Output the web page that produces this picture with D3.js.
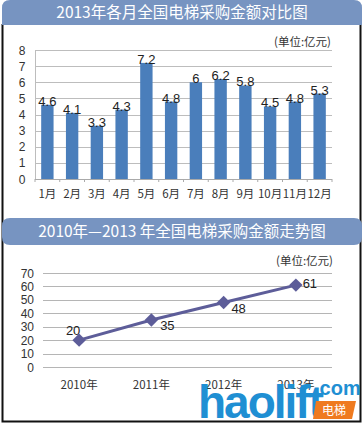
<!DOCTYPE html>
<html>
<head>
<meta charset="utf-8">
<script src="https://cdn.jsdelivr.net/npm/d3@7/dist/d3.min.js"></script>
<style>
  html, body { margin: 0; padding: 0; background: #fff; }
  svg { display: block; }
</style>
</head>
<body>
<svg id="chart" width="364" height="424"></svg>
<script>
var months = ['1月', '2月', '3月', '4月', '5月', '6月', '7月', '8月', '9月', '10月', '11月', '12月'];
var monthValues = [4.6, 4.1, 3.3, 4.3, 7.2, 4.8, 6, 6.2, 5.8, 4.5, 4.8, 5.3];
var monthTicks = [0, 1, 2, 3, 4, 5, 6, 7, 8];

var years = ['2010年', '2011年', '2012年', '2013年'];
var yearValues = [20, 35, 48, 61];
var yearTicks = [0, 10, 20, 30, 40, 50, 60, 70];

var svg = d3.select('#chart');
var cjk = '"Noto Sans CJK SC", sans-serif';
var latin = '"Liberation Sans", Arial, sans-serif';
var headerColor = '#7794c1';

// outer frame
svg.append('path')
  .attr('d', 'M2.5,24 V421.5 H360.5 V24')
  .attr('fill', 'none')
  .attr('stroke', '#111')
  .attr('stroke-width', 2);

// headers
function header(y, h, text, roundBottom) {
  var r = 8, x0 = 2, x1 = 362;
  var d = roundBottom
    ? 'M' + (x0 + r) + ',' + y + ' H' + (x1 - r) + ' Q' + x1 + ',' + y + ' ' + x1 + ',' + (y + r) +
      ' V' + (y + h - r) + ' Q' + x1 + ',' + (y + h) + ' ' + (x1 - r) + ',' + (y + h) +
      ' H' + (x0 + r) + ' Q' + x0 + ',' + (y + h) + ' ' + x0 + ',' + (y + h - r) +
      ' V' + (y + r) + ' Q' + x0 + ',' + y + ' ' + (x0 + r) + ',' + y + 'Z'
    : 'M' + x0 + ',' + (y + h) + ' V' + (y + r) + ' Q' + x0 + ',' + y + ' ' + (x0 + r) + ',' + y +
      ' H' + (x1 - r) + ' Q' + x1 + ',' + y + ' ' + x1 + ',' + (y + r) + ' V' + (y + h) + 'Z';
  svg.append('path').attr('d', d).attr('fill', headerColor);
  svg.append('text')
    .attr('x', 182).attr('y', y + h / 2 + 5.5)
    .attr('text-anchor', 'middle')
    .attr('fill', '#fff')
    .style('font-family', cjk)
    .style('font-size', '15.5px')
    .text(text);
}
header(0, 25, '2013年各月全国电梯采购金额对比图', false);
header(218, 27, '2010年—2013 年全国电梯采购金额走势图', true);

// ---- bar chart ----
var x1 = d3.scaleBand().domain(months).range([35, 332]).paddingInner(0.5).paddingOuter(0.25);
var y1 = d3.scaleLinear().domain([0, 8]).range([179, 50]);

var g1 = svg.append('g');
g1.selectAll('line.grid').data(monthTicks.slice(1)).enter().append('line')
  .attr('x1', 35).attr('x2', 332)
  .attr('y1', function(d) { return Math.round(y1(d)) + 0.5; })
  .attr('y2', function(d) { return Math.round(y1(d)) + 0.5; })
  .attr('stroke', '#bdbdbd');

g1.append('line').attr('x1', 35.5).attr('x2', 35.5).attr('y1', 50).attr('y2', 179)
  .attr('stroke', '#bdbdbd');

g1.selectAll('text.ytick').data(monthTicks).enter().append('text')
  .attr('x', 22).attr('y', function(d) { return y1(d) + 4.5; })
  .attr('text-anchor', 'middle')
  .attr('fill', '#333')
  .style('font-family', latin).style('font-size', '12px')
  .text(function(d) { return d; });

g1.selectAll('rect').data(monthValues).enter().append('rect')
  .attr('x', function(d, i) { return x1(months[i]); })
  .attr('width', x1.bandwidth())
  .attr('y', function(d) { return y1(d); })
  .attr('height', function(d) { return y1(0) - y1(d); })
  .attr('fill', '#4a7ebb');

g1.append('line').attr('x1', 35).attr('x2', 332).attr('y1', 179.5).attr('y2', 179.5)
  .attr('stroke', '#aaa');
g1.selectAll('line.xtick').data(d3.range(13)).enter().append('line')
  .attr('x1', function(i) { return 35 + i * x1.step(); })
  .attr('x2', function(i) { return 35 + i * x1.step(); })
  .attr('y1', 179).attr('y2', 182)
  .attr('stroke', '#aaa');

g1.selectAll('text.val').data(monthValues).enter().append('text')
  .attr('x', function(d, i) { return x1(months[i]) + x1.bandwidth() / 2; })
  .attr('y', function(d) { return y1(d) + 1; })
  .attr('text-anchor', 'middle')
  .attr('fill', '#222')
  .style('font-family', latin).style('font-size', '13px')
  .text(function(d) { return d; });

g1.selectAll('text.xlab').data(months).enter().append('text')
  .attr('x', function(d) { return x1(d) + x1.bandwidth() / 2; })
  .attr('y', 198)
  .attr('text-anchor', 'middle')
  .attr('fill', '#333')
  .style('font-family', cjk).style('font-size', '11.5px')
  .text(function(d) { return d; });

g1.append('text').attr('x', 331).attr('y', 46).attr('text-anchor', 'end')
  .attr('fill', '#333')
  .style('font-family', cjk).style('font-size', '11.5px')
  .text('(单位:亿元)');

// ---- line chart ----
var x2 = d3.scaleBand().domain(years).range([43, 332]);
var y2 = d3.scaleLinear().domain([0, 70]).range([367, 273]);

var g2 = svg.append('g');
g2.selectAll('line.grid').data(yearTicks).enter().append('line')
  .attr('x1', 43).attr('x2', 332)
  .attr('y1', function(d) { return Math.round(y2(d)) + 0.5; })
  .attr('y2', function(d) { return Math.round(y2(d)) + 0.5; })
  .attr('stroke', '#b5b5b5');

g2.selectAll('text.ytick').data(yearTicks).enter().append('text')
  .attr('x', 34).attr('y', function(d) { return y2(d) + 4.5; })
  .attr('text-anchor', 'end')
  .attr('fill', '#333')
  .style('font-family', latin).style('font-size', '12px')
  .text(function(d) { return d; });

var cx = function(d, i) { return x2(years[i]) + x2.bandwidth() / 2; };
var line = d3.line().x(cx).y(function(d) { return y2(d); });
g2.append('path').datum(yearValues).attr('d', line)
  .attr('fill', 'none').attr('stroke', '#5d5d99').attr('stroke-width', 3);

g2.selectAll('path.pt').data(yearValues).enter().append('path')
  .attr('d', d3.symbol().type(d3.symbolSquare).size(90))
  .attr('transform', function(d, i) { return 'translate(' + cx(d, i) + ',' + y2(d) + ') rotate(45)'; })
  .attr('fill', '#5d5d99');

var labelOffsets = [[-6, -5], [16, 10], [15, 10], [14, 3]];
g2.selectAll('text.val').data(yearValues).enter().append('text')
  .attr('x', function(d, i) { return cx(d, i) + labelOffsets[i][0]; })
  .attr('y', function(d, i) { return y2(d) + labelOffsets[i][1]; })
  .attr('text-anchor', 'middle')
  .attr('fill', '#222')
  .style('font-family', latin).style('font-size', '13px')
  .text(function(d) { return d; });

g2.selectAll('text.xlab').data(years).enter().append('text')
  .attr('x', function(d) { return x2(d) + x2.bandwidth() / 2; })
  .attr('y', 389)
  .attr('text-anchor', 'middle')
  .attr('fill', '#333')
  .style('font-family', cjk).style('font-size', '11.5px')
  .text(function(d) { return d; });

g2.append('text').attr('x', 333).attr('y', 265).attr('text-anchor', 'end')
  .attr('fill', '#333')
  .style('font-family', cjk).style('font-size', '11.5px')
  .text('(单位:亿元)');

// ---- watermark ----
var wm = svg.append('g');
wm.append('text').attr('x', 198).attr('y', 418)
  .attr('fill', '#1f8fd3')
  .style('font-family', latin)
  .style('font-weight', 'bold').style('font-size', '46px')
  .style('letter-spacing', '-2px')
  .text('haolift');
wm.append('text').attr('x', 314).attr('y', 395)
  .attr('fill', '#1f8fd3')
  .style('font-family', latin).style('font-weight', 'bold').style('font-size', '20px')
  .text('.com');
wm.append('path')
  .attr('d', 'M316,401 H356 L352,419 H313 Z')
  .attr('fill', '#ef7a1f');
wm.append('text').attr('x', 334).attr('y', 415).attr('text-anchor', 'middle')
  .attr('fill', '#fff')
  .style('font-family', cjk).style('font-size', '12px')
  .text('电梯');
</script>
</body>
</html>
